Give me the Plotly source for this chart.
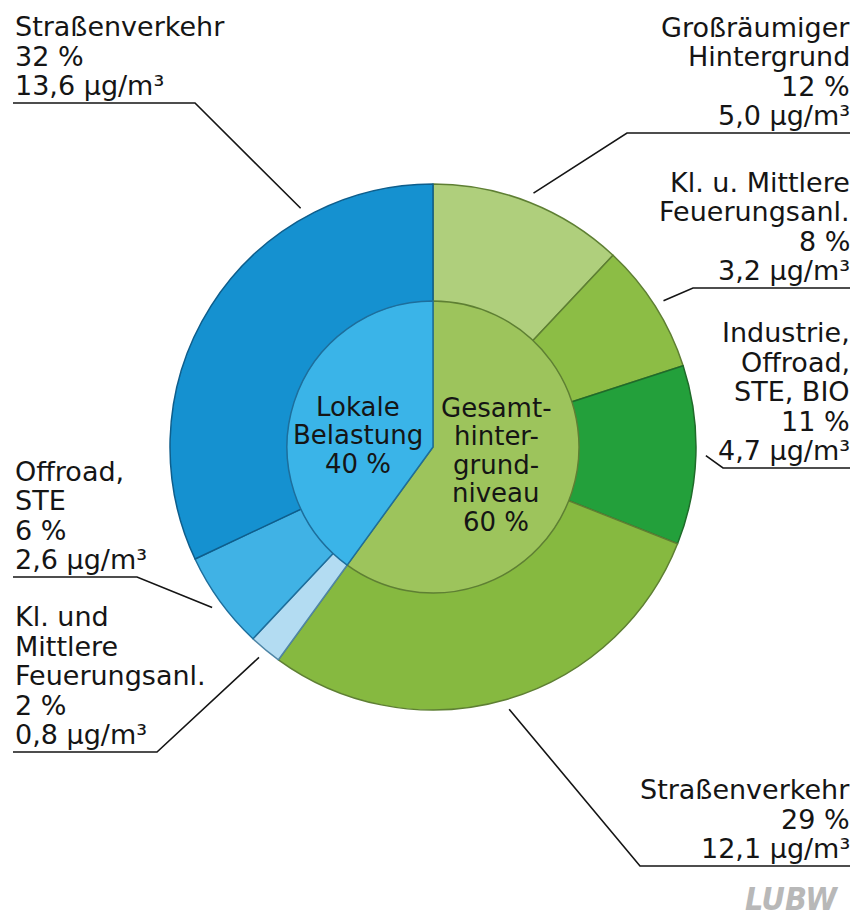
import math
import plotly.graph_objects as go

# ---------------- data ----------------
outer_names = [
    "Großräumiger\nHintergrund",
    "Kl. u. Mittlere\nFeuerungsanl.",
    "Industrie,\nOffroad,\nSTE, BIO",
    "Straßenverkehr",
    "Kl. und\nMittlere\nFeuerungsanl.",
    "Offroad,\nSTE",
    "Straßenverkehr",
]
outer_pct = [12, 8, 11, 29, 2, 6, 32]
outer_conc = [5.0, 3.2, 4.7, 12.1, 0.8, 2.6, 13.6]

inner_names = ["Gesamt-\nhinter-\ngrund-\nniveau", "Lokale\nBelastung"]
inner_pct = [60, 40]

# ---------------- styles ----------------
outer_colors = ["#AFCF7C", "#8CBD45", "#23A03B", "#86B940",
                "#B3DCF2", "#40B2E5", "#1591D0"]
outer_lines = ["#5E7F33", "#5E7F33", "#1F6B2A", "#5E7F33",
               "#4F86A6", "#1D6E9C", "#0E5E8C"]
inner_colors = ["#9DC45C", "#3AB4E8"]
inner_lines = ["#5E7F33", "#1D6E9C"]

PAGE_OFF = 8          # browser body margin
W, H = 850, 912       # figure size so it fits the 858x920 window
CX, CY = 433, 447     # page-pixel centre of the pie
R_OUT, R_IN = 263, 146
FONT = "DejaVu Sans"
FS = 27
LS = 29.5  # line spacing in px


def px(x, y):
    """page pixel -> paper coords"""
    return (x - PAGE_OFF) / W, 1 - (y - PAGE_OFF) / H


# label layout: (text x, underline y, elbow x, underline end x, align, leader angle override)
label_layout = [
    (852, 133, 627, 852, "right", None),
    (852, 288, 693, 852, "right", None),
    (852, 468, 723, 852, "right", None),
    (852, 866, 640, 852, "right", None),
    (13, 752, 157, 13, "left", None),
    (13, 577, 137, 13, "left", None),
    (13, 103, 195, 13, "left", 331),
]

fig = go.Figure()

ox0, oy1 = px(CX - R_OUT, CY - R_OUT)
ox1, oy0 = px(CX + R_OUT, CY + R_OUT)
fig.add_trace(go.Pie(
    values=outer_pct,
    labels=[f"{n.replace(chr(10), ' ')} ({p} %)" for n, p in zip(outer_names, outer_pct)],
    sort=False, direction="clockwise", rotation=0,
    hole=0.55,
    marker=dict(colors=outer_colors, line=dict(color=outer_lines, width=1.5)),
    textinfo="none", showlegend=False,
    domain=dict(x=[ox0, ox1], y=[oy0, oy1]),
))

ix0, iy1 = px(CX - R_IN, CY - R_IN)
ix1, iy0 = px(CX + R_IN, CY + R_IN)
fig.add_trace(go.Pie(
    values=inner_pct,
    labels=[f"{n.replace(chr(10), '')} ({p} %)" for n, p in zip(inner_names, inner_pct)],
    sort=False, direction="clockwise", rotation=0,
    marker=dict(colors=inner_colors, line=dict(color=inner_lines, width=1.5)),
    textinfo="none", showlegend=False,
    domain=dict(x=[ix0, ix1], y=[iy0, iy1]),
))

annotations = []
shapes = []

total = sum(outer_pct)
cum = 0
for name, pct, conc, lay in zip(outer_names, outer_pct, outer_conc, label_layout):
    tx, uy, ex, endx, align, ang_override = lay
    mid = (cum + pct / 2) / total * 360
    cum += pct
    ang = ang_override if ang_override is not None else mid
    r = R_OUT + 10
    ax = CX + r * math.sin(math.radians(ang))
    ay = CY - r * math.cos(math.radians(ang))
    lines = name.split("\n") + [f"{pct} %", f"{conc:.1f}".replace(".", ",") + " µg/m³"]
    n = len(lines)
    for i, ln in enumerate(lines):
        base = uy - 8 - (n - 1 - i) * LS
        xx, yy = px(tx, base - 0.35 * FS)
        annotations.append(dict(
            x=xx, y=yy, xref="paper", yref="paper", text=ln, showarrow=False,
            xanchor=align, yanchor="middle",
            font=dict(family=FONT, size=FS, color="#151515"),
        ))
    p1 = px(ax, ay)
    p2 = px(ex, uy)
    p3 = px(endx, uy)
    shapes.append(dict(
        type="path", xref="paper", yref="paper",
        path=f"M {p1[0]},{p1[1]} L {p2[0]},{p2[1]} L {p3[0]},{p3[1]}",
        line=dict(color="#151515", width=1.6),
    ))

# inner labels
inner_pos = [(496, 417), (358, 416)]  # (center x, first baseline)
for name, pct, (cx, b0) in zip(inner_names, inner_pct, inner_pos):
    lines = name.split("\n") + [f"{pct} %"]
    for i, ln in enumerate(lines):
        base = b0 + i * 28.5
        xx, yy = px(cx, base - 0.35 * 26)
        annotations.append(dict(
            x=xx, y=yy, xref="paper", yref="paper", text=ln, showarrow=False,
            xanchor="center", yanchor="middle",
            font=dict(family=FONT, size=26, color="#151515"),
        ))

# logo
lx, ly = px(791, 899)
annotations.append(dict(
    x=lx, y=ly, xref="paper", yref="paper", text="<b><i>LUBW</i></b>", showarrow=False,
    xanchor="center", yanchor="middle",
    font=dict(family="DejaVu Sans Condensed", size=32, color="#B8B8B8"),
))

fig.update_layout(
    width=W, height=H, autosize=False,
    margin=dict(l=0, r=0, t=0, b=0),
    paper_bgcolor="white", plot_bgcolor="white",
    annotations=annotations, shapes=shapes,
)

fig.write_html("out.html")
